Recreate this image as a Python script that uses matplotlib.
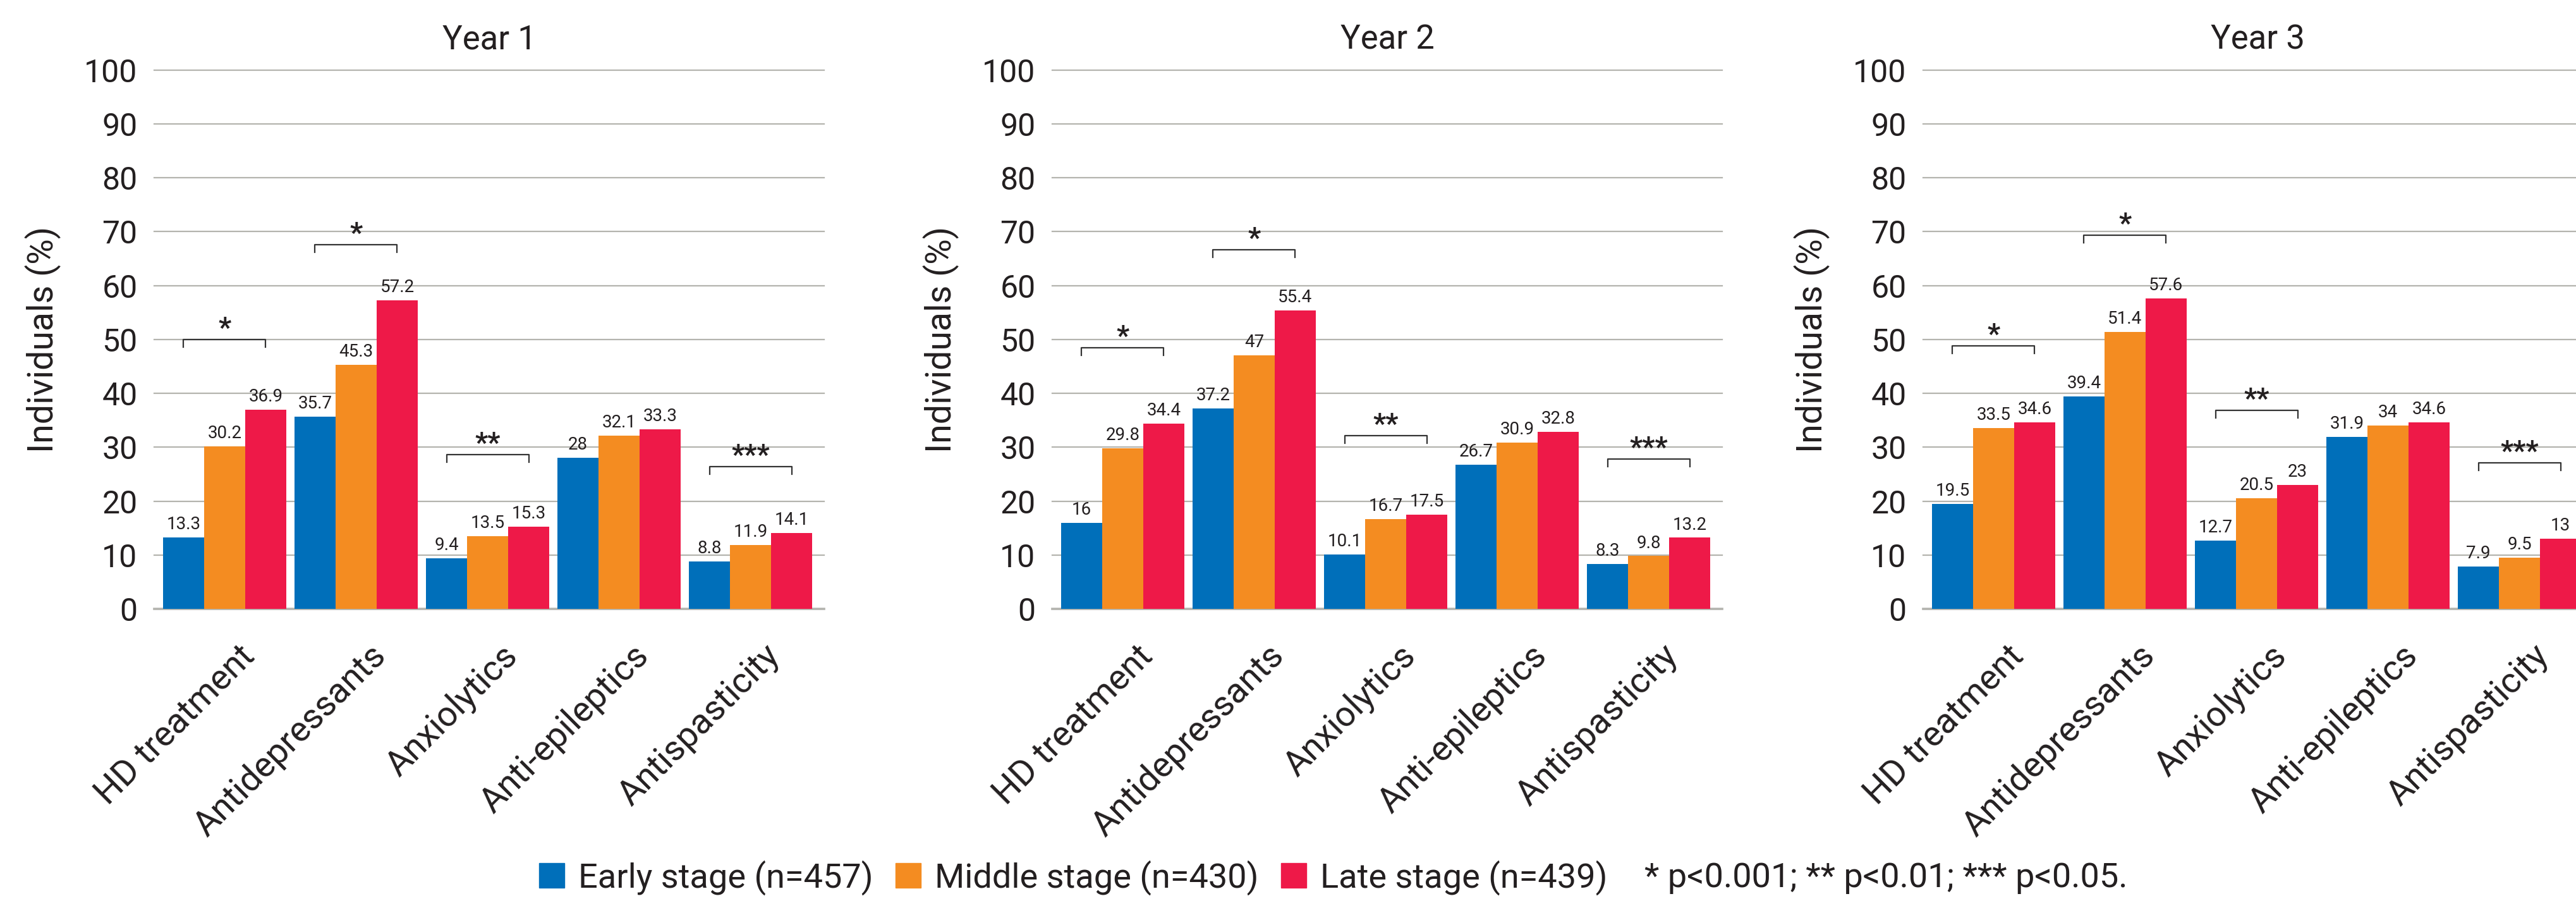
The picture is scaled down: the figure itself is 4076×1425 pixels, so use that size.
import matplotlib
matplotlib.use("Agg")
import matplotlib.pyplot as plt
import matplotlib.transforms as mtransforms
from matplotlib.patches import Patch
import numpy as np

plt.rcParams['font.family'] = ['Roboto', 'DejaVu Sans']
plt.rcParams['text.color'] = '#231f20'

categories = ["HD treatment", "Antidepressants", "Anxiolytics", "Anti-epileptics", "Antispasticity"]
years = ["Year 1", "Year 2", "Year 3"]
stages = ["Early stage (n=457)", "Middle stage (n=430)", "Late stage (n=439)"]
colors = ["#006fba", "#f48c21", "#ee1948"]

# % of individuals per drug class, per stage
early_y1 = [13.3, 35.7, 9.4, 28, 8.8]
middle_y1 = [30.2, 45.3, 13.5, 32.1, 11.9]
late_y1 = [36.9, 57.2, 15.3, 33.3, 14.1]

early_y2 = [16, 37.2, 10.1, 26.7, 8.3]
middle_y2 = [29.8, 47, 16.7, 30.9, 9.8]
late_y2 = [34.4, 55.4, 17.5, 32.8, 13.2]

early_y3 = [19.5, 39.4, 12.7, 31.9, 7.9]
middle_y3 = [33.5, 51.4, 20.5, 34, 9.5]
late_y3 = [34.6, 57.6, 23, 34.6, 13]

# significance marks and bracket heights (None = no bracket)
sig_marks = ["*", "*", "**", None, "***"]
sig_y1 = [50, 67.6, 28.6, None, 26.4]
sig_y2 = [48.4, 66.6, 32.1, None, 27.8]
sig_y3 = [48.8, 69.3, 36.8, None, 27.1]

p_note = "* p<0.001; ** p<0.01; *** p<0.05."

data = [
    (early_y1, middle_y1, late_y1, sig_y1),
    (early_y2, middle_y2, late_y2, sig_y2),
    (early_y3, middle_y3, late_y3, sig_y3),
]

W, H = 4076, 1425
fig = plt.figure(figsize=(W / 100, H / 100), dpi=100)

ax_left = [244, 1665, 3043]
ax_w = 1060
ax_bottom = (H - 963) / H
ax_h = (963 - 110.5) / H

bw = 0.3125
x = np.arange(len(categories))
text_col = '#231f20'
grid_col = '#b4b4ae'

for k, (year, (e, m, l, sig)) in enumerate(zip(years, data)):
    ax = fig.add_axes([ax_left[k] / W, ax_bottom, ax_w / W, ax_h])
    for j, vals in enumerate([e, m, l]):
        bars = ax.bar(x + (j - 1) * bw, vals, width=bw, color=colors[j], zorder=2)
        ax.bar_label(bars, labels=[f"{v:g}" for v in vals], padding=5,
                     fontsize=20, color=text_col)

    # significance brackets from early to late bar
    for i, (mark, yb) in enumerate(zip(sig_marks, sig)):
        if mark is None:
            continue
        x0, x1 = x[i] - bw, x[i] + bw
        ax.plot([x0, x0, x1, x1], [yb - 1.4, yb, yb, yb - 1.4],
                color='#333333', lw=1.6, zorder=3)
        ax.annotate(mark, (x[i], yb), xytext=(0, 3), textcoords='offset points',
                    ha='center', va='baseline', fontsize=32, fontweight='bold',
                    color=text_col)

    ax.set_xlim(-0.536, 4.56)
    ax.set_ylim(0, 100)
    ax.set_yticks(range(0, 101, 10))
    ax.yaxis.grid(True, color=grid_col, lw=1.6)
    ax.set_axisbelow(True)
    for gl in ax.get_ygridlines():
        gl.set_clip_on(False)
    ax.axhline(0, color=grid_col, lw=2.6, zorder=1, clip_on=False)
    for s in ax.spines.values():
        s.set_visible(False)

    ax.tick_params(axis='y', length=0, pad=19, labelsize=36, labelcolor=text_col)
    ax.tick_params(axis='x', length=0, pad=34, labelsize=40, labelcolor=text_col)
    ax.set_xticks(x)
    ax.set_xticklabels(categories, rotation=45, ha='right', va='top',
                       rotation_mode='anchor')
    offset = mtransforms.ScaledTranslation(0.20, 0, fig.dpi_scale_trans)
    for lab in ax.get_xticklabels():
        lab.set_transform(lab.get_transform() + offset)

    ax.set_title(year, fontsize=38, pad=24, color=text_col)
    ax.set_ylabel("Individuals (%)", fontsize=40, labelpad=26, color=text_col)

handles = [Patch(color=c) for c in colors]
leg = fig.legend(handles, stages, loc='center left',
                 bbox_to_anchor=(853 / W, 37 / H), ncol=3, frameon=False,
                 fontsize=39, handlelength=0.74, handleheight=0.74,
                 handletextpad=0.4, columnspacing=0.66, borderpad=0,
                 borderaxespad=0)

fig.canvas.draw()
bb = leg.get_window_extent()
fig.text((bb.x1 + 59) / W, 37 / H, p_note, va='center', fontsize=39, color=text_col)

fig.savefig("out.png", dpi=100)
